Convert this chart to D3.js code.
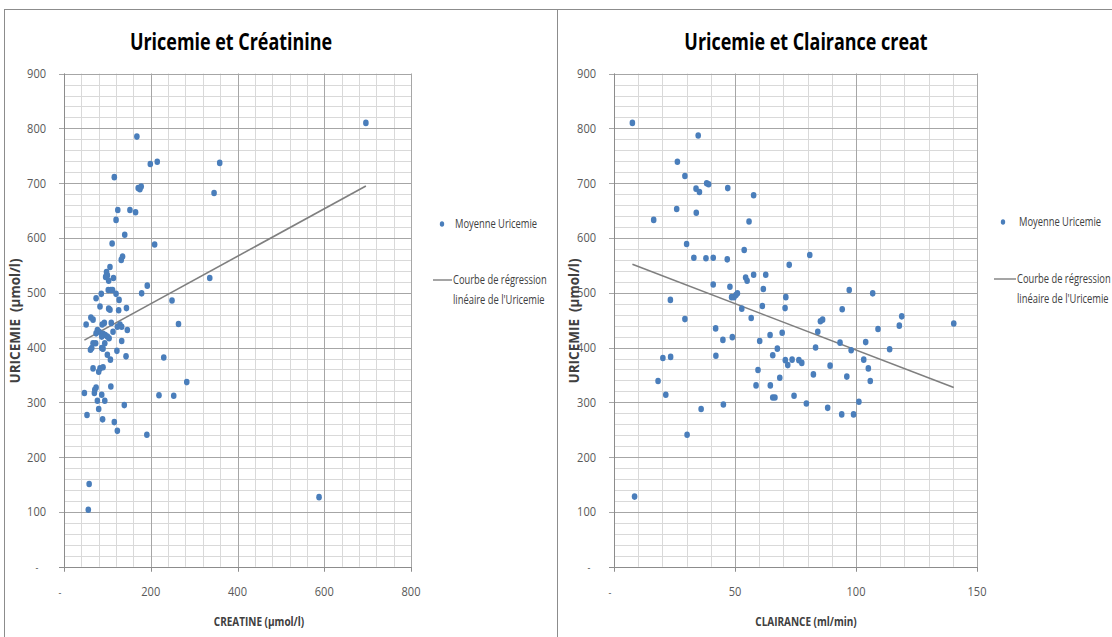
<!DOCTYPE html>
<html><head><meta charset="utf-8">
<script src="https://cdn.jsdelivr.net/npm/d3@7"></script>
<style>body{margin:0;background:#fff}svg{display:block}</style>
</head><body><svg id="c" width="1112" height="637"></svg>
<script>
// ---------- DATA ----------
const creatX = [168,199,215,359,346,116,171,175,178,124,152,165,120,140,111,209,135,132,336,106,98,100,96,103,114,102,108,112,192,179,249,74,86,120,127,83,103,106,126,144,51,62,67,93,88,77,81,74,109,129,123,133,146,113,90,95,100,104,87,94,67,73,133,61,64,87,90,122,100,107,143,230,264,67,83,90,80,283,108,74,71,70,47,87,94,77,219,253,139,53,80,89,116,123,191,58,56,696,588];
const creatY = [785,735,739,737,682,711,691,689,694,651,651,647,633,606,590,588,566,560,527,547,538,532,529,522,527,505,505,505,513,499,486,490,498,498,487,475,471,469,468,472,442,455,451,445,442,432,429,426,445,442,438,438,432,429,425,423,420,417,420,408,408,408,412,396,399,399,398,394,387,378,384,382,443,362,362,364,356,337,329,327,323,317,317,314,303,303,313,312,295,277,288,269,264,248,241,151,104,810,127];
const clairX = [7.6,34.8,26.2,29.3,33.9,35.3,38.3,39.1,47,57.7,25.9,16.4,34,55.8,30,53.8,33,38,41,46.8,57.7,62.7,54.4,55,41,47.9,48.6,49.6,50.4,51,52.8,56.7,23.3,29.3,42,45,48.9,42.1,20.2,23.4,60.2,59.5,58.7,18.2,21.4,45.2,36,30.2,8.5,80.9,72.4,61.7,71,61.3,70.7,97.2,106.9,94.3,118.9,117.9,140.4,85.3,86.2,84.2,109.1,64.5,69.5,67.5,65.6,83.3,93.4,98,104,113.9,103.2,105.1,105.9,70.8,71.8,73.6,76.4,77.6,89.3,96.2,82.4,68.5,64.6,65.6,66.5,74.4,79.5,88.3,94.1,99,101.2];
const clairY = [810,787,739,713,690,684,700,698,691,678,653,633,646,630,589,578,564,563,564,561,533,533,528,522,515,511,492,492,496,499,471,454,487,452,435,414,419,385,381,383,412,359,331,339,314,296,288,241,128,569,551,507,492,476,472,505,499,470,457,440,444,448,451,429,434,423,427,398,386,400,409,395,410,397,378,362,339,377,368,378,377,372,367,347,351,345,331,309,309,312,298,290,278,278,301];
const regCreat = [393.2, 0.4336];   // intercept, slope
const regClair = [564.9, -1.694];
const yTicks = [0,100,200,300,400,500,600,700,800,900];
const creatTicks = [0,200,400,600,800];
const clairTicks = [0,50,100,150];
const titles = ["Uricemie et Créatinine", "Uricemie et Clairance creat"];
const xTitles = ["CREATINE (µmol/l)", "CLAIRANCE (ml/min)"];
const yTitle = "URICEMIE  (µmol/l)";
const legendLabels = ["Moyenne Uricemie", "Courbe de régression", "linéaire de l'Uricemie"];

// ---------- DRAW ----------
const svg = d3.select("#c");
const FONT = "'Open Sans', 'Noto Sans', sans-serif";
function txt(g, x, y, s, o = {}) {
  return g.append("text")
    .attr("transform", `translate(${x},${y}) ${o.rot ? "rotate(-90)" : ""} scale(${o.sx || 0.8},1)`)
    .attr("font-family", FONT)
    .attr("font-size", o.size || 12)
    .attr("font-weight", o.bold ? 700 : 400)
    .attr("fill", o.fill || "#595959")
    .attr("text-anchor", o.anchor || "start")
    .attr("xml:space", "preserve")
    .style("white-space", "pre")
    .text(s);
}

// panel borders
svg.append("rect").attr("x", 4.5).attr("y", 9.5).attr("width", 553).attr("height", 640)
  .attr("fill", "none").attr("stroke", "#8c8c8c");
svg.append("rect").attr("x", 557.5).attr("y", 9.5).attr("width", 600).attr("height", 640)
  .attr("fill", "none").attr("stroke", "#8c8c8c");

const y = d3.scaleLinear().domain([0, 900]).range([566.75, 73.6]);

const panels = [
  { xs: creatX, ys: creatY, reg: regCreat, ticks: creatTicks, dom: [0, 800], r: [64, 411], minor: 40,
    title: titles[0], titleX: 231, xTitle: xTitles[0], xTitleX: 259, yTitleX: 20, yDashX: 37,
    leg: { mx: 442, my: 224, tx: 455, l0: 433, l1: 452, ly: 280 } },
  { xs: clairX, ys: clairY, reg: regClair, ticks: clairTicks, dom: [0, 150], r: [614, 977], minor: 10,
    title: titles[1], titleX: 806, xTitle: xTitles[1], xTitleX: 806, yTitleX: 579, yDashX: 589,
    leg: { mx: 1003, my: 222, tx: 1019, l0: 994, l1: 1016, ly: 279 } }
];

panels.forEach(p => {
  const g = svg.append("g");
  const x = d3.scaleLinear().domain(p.dom).range(p.r);
  const minorX = d3.range(p.dom[0], p.dom[1] + 0.001, p.minor);
  const minorY = d3.range(0, 900.001, 20);
  g.selectAll(".mx").data(minorX).enter().append("line")
    .attr("x1", d => Math.round(x(d)) + 0.5).attr("x2", d => Math.round(x(d)) + 0.5)
    .attr("y1", y(900)).attr("y2", y(0)).attr("stroke", "#d9d9d9");
  g.selectAll(".my").data(minorY).enter().append("line")
    .attr("y1", d => Math.round(y(d)) + 0.5).attr("y2", d => Math.round(y(d)) + 0.5)
    .attr("x1", p.r[0]).attr("x2", p.r[1]).attr("stroke", "#d9d9d9");
  g.selectAll(".Mx").data(p.ticks).enter().append("line")
    .attr("x1", d => Math.round(x(d)) + 0.5).attr("x2", d => Math.round(x(d)) + 0.5)
    .attr("y1", y(900)).attr("y2", y(0)).attr("stroke", "#a6a6a6");
  g.selectAll(".My").data(yTicks).enter().append("line")
    .attr("y1", d => Math.round(y(d)) + 0.5).attr("y2", d => Math.round(y(d)) + 0.5)
    .attr("x1", p.r[0] - 5).attr("x2", p.r[1]).attr("stroke", "#a6a6a6");
  g.append("line").attr("x1", Math.round(p.r[0]) + 0.5).attr("x2", Math.round(p.r[0]) + 0.5)
    .attr("y1", y(900)).attr("y2", y(0)).attr("stroke", "#8c8c8c");
  g.append("line").attr("x1", p.r[0] - 5).attr("x2", p.r[1]).attr("y1", Math.round(y(0)) + 0.5)
    .attr("y2", Math.round(y(0)) + 0.5).attr("stroke", "#8c8c8c");
  g.selectAll(".xt").data(p.ticks).enter().append("line")
    .attr("x1", d => Math.round(x(d)) + 0.5).attr("x2", d => Math.round(x(d)) + 0.5)
    .attr("y1", y(0)).attr("y2", y(0) + 5).attr("stroke", "#8c8c8c");
  yTicks.forEach(d => {
    if (d === 0) txt(g, p.yDashX, y(d) + 4, "-", { size: 11, anchor: "middle" });
    else txt(g, p.r[0] - 18, y(d) + 4.5, String(d), { size: 13, anchor: "end", sx: 0.85 });
  });
  p.ticks.forEach(d => {
    if (d === 0) txt(g, x(d) - 4, 596, "-", { size: 11, anchor: "middle" });
    else txt(g, x(d), 596, String(d), { size: 13, anchor: "middle", sx: 0.85 });
  });
  txt(g, p.titleX, 50, p.title, { size: 23, bold: true, anchor: "middle", fill: "#000", sx: 0.78 });
  txt(g, p.xTitleX, 626, p.xTitle, { size: 12.5, bold: true, anchor: "middle", fill: "#404040", sx: 0.8 });
  txt(g, p.yTitleX, 321, yTitle, { size: 13.5, bold: true, anchor: "middle", fill: "#404040", rot: true, sx: 1 });
  const xmin = d3.min(p.xs), xmax = d3.max(p.xs);
  g.append("line")
    .attr("x1", x(xmin)).attr("y1", y(p.reg[0] + p.reg[1] * xmin))
    .attr("x2", x(xmax)).attr("y2", y(p.reg[0] + p.reg[1] * xmax))
    .attr("stroke", "#7f7f7f").attr("stroke-width", 1.6);
  g.selectAll(".pt").data(p.xs.map((v, i) => [v, p.ys[i]])).enter().append("ellipse")
    .attr("cx", d => x(d[0])).attr("cy", d => y(d[1]))
    .attr("rx", 2.8).attr("ry", 3.3).attr("fill", "#4a7ebb");
  const L = p.leg;
  g.append("ellipse").attr("cx", L.mx).attr("cy", L.my).attr("rx", 2.2).attr("ry", 2.7).attr("fill", "#4a7ebb");
  txt(g, L.tx, L.my + 4, legendLabels[0], { size: 12, fill: "#404040", sx: 0.78 });
  g.append("line").attr("x1", L.l0).attr("x2", L.l1).attr("y1", L.ly).attr("y2", L.ly)
    .attr("stroke", "#7f7f7f").attr("stroke-width", 1.4);
  txt(g, L.l1 + 1, L.ly + 4, legendLabels[1], { size: 12, fill: "#404040", sx: 0.78 });
  txt(g, L.l1 + 1, L.ly + 24, legendLabels[2], { size: 12, fill: "#404040", sx: 0.78 });
});
</script></body></html>
